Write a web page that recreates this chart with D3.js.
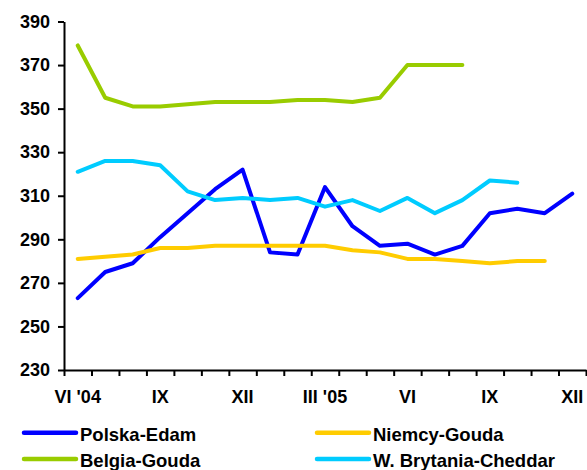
<!DOCTYPE html>
<html>
<head>
<meta charset="utf-8">
<script src="https://cdn.jsdelivr.net/npm/d3@7"></script>
<style>
  html, body { margin: 0; padding: 0; background: #fff; }
  svg { display: block; font-family: Arial, "Liberation Sans", sans-serif; }
</style>
</head>
<body>
<svg id="chart" width="587" height="470"></svg>
<script>
// Months from June 2004 to December 2005
const months = ["VI '04", "VII", "VIII", "IX", "X", "XI", "XII", "I", "II", "III '05",
                "IV", "V", "VI", "VII", "VIII", "IX", "X", "XI", "XII"];
// Which months get a printed label on the x axis
const monthLabels = ["VI '04", "", "", "IX", "", "", "XII", "", "", "III '05",
                     "", "", "VI", "", "", "IX", "", "", "XII"];
const yTicks = [230, 250, 270, 290, 310, 330, 350, 370, 390];

// Cheese prices per series (series may end before December 2005)
const polskaEdam = [263, 275, 279, 291, 302, 313, 322, 284, 283, 314, 296, 287, 288, 283, 287, 302, 304, 302, 311];
const niemcyGouda = [281, 282, 283, 286, 286, 287, 287, 287, 287, 287, 285, 284, 281, 281, 280, 279, 280, 280];
const belgiaGouda = [379, 355, 351, 351, 352, 353, 353, 353, 354, 354, 353, 355, 370, 370, 370];
const brytaniaCheddar = [321, 326, 326, 324, 312, 308, 309, 308, 309, 305, 308, 303, 309, 302, 308, 317, 316];

const seriesNames = ["Polska-Edam", "Niemcy-Gouda", "Belgia-Gouda", "W. Brytania-Cheddar"];
const seriesColors = ["#0000ff", "#ffcc00", "#99cc00", "#00ccff"];
const seriesValues = [polskaEdam, niemcyGouda, belgiaGouda, brytaniaCheddar];

const svg = d3.select("#chart");
const plotLeft = 64, plotRight = 586, plotTop = 21.5, plotBottom = 370;

const x = d3.scaleBand().domain(d3.range(months.length)).range([plotLeft, plotRight]).padding(0);
const xEdge = d3.scaleLinear().domain([0, months.length]).range([plotLeft, plotRight]);
const y = d3.scaleLinear().domain([230, 390]).range([plotBottom, plotTop]);

// Lines
const line = d3.line()
  .x((d, i) => x(i) + x.bandwidth() / 2)
  .y(d => y(d));

svg.append("g").selectAll("path")
  .data(seriesValues)
  .join("path")
  .attr("fill", "none")
  .attr("stroke", (d, i) => seriesColors[i])
  .attr("stroke-width", 4)
  .attr("stroke-linejoin", "round")
  .attr("stroke-linecap", "round")
  .attr("d", line);

// Y axis
const yAxis = svg.append("g")
  .attr("transform", `translate(${plotLeft},0)`)
  .call(d3.axisLeft(y).tickValues(yTicks).tickSize(6).tickPadding(8).tickSizeOuter(0));
yAxis.select(".domain").attr("stroke", "#000").attr("stroke-width", 2);
yAxis.selectAll(".tick line").attr("stroke", "#000").attr("stroke-width", 2);
yAxis.selectAll(".tick text")
  .attr("fill", "#000")
  .style("font-size", "18px")
  .style("font-weight", "bold")
  .style("font-family", "Arial, 'Liberation Sans', sans-serif");

// X axis: ticks sit on month boundaries, labels in the middle of each month
const xAxis = svg.append("g")
  .attr("transform", `translate(0,${plotBottom})`)
  .call(d3.axisBottom(xEdge).tickValues(d3.range(months.length + 1)).tickSize(6).tickFormat("").tickSizeOuter(0));
xAxis.select(".domain").attr("stroke", "#000").attr("stroke-width", 2);
xAxis.selectAll(".tick line").attr("stroke", "#000").attr("stroke-width", 2);

svg.append("g").selectAll("text")
  .data(monthLabels)
  .join("text")
  .attr("x", (d, i) => x(i) + x.bandwidth() / 2)
  .attr("y", 402.5)
  .attr("text-anchor", "middle")
  .style("font-size", "18px")
  .style("font-weight", "bold")
  .attr("fill", "#000")
  .text(d => d);

// Legend
const legendPos = [[24, 432.7], [317, 432.7], [24, 459], [317, 459]];
const legend = svg.append("g").selectAll("g")
  .data(seriesNames)
  .join("g")
  .attr("transform", (d, i) => `translate(${legendPos[i][0]},${legendPos[i][1]})`);
legend.append("line")
  .attr("x1", 0).attr("x2", 52).attr("y1", 0).attr("y2", 0)
  .attr("stroke", (d, i) => seriesColors[i])
  .attr("stroke-width", 4.5)
  .attr("stroke-linecap", "round");
legend.append("text")
  .attr("x", 56)
  .attr("y", 8)
  .style("font-size", "18.5px")
  .style("font-weight", "bold")
  .attr("fill", "#000")
  .text(d => d);
</script>
</body>
</html>
